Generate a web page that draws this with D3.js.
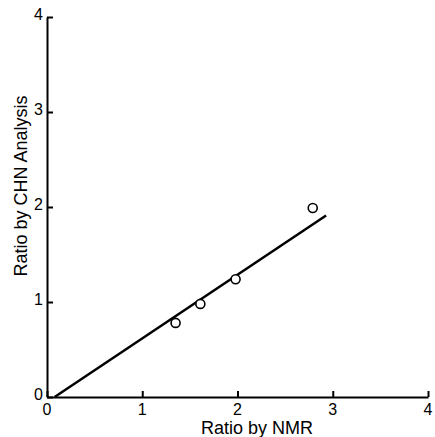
<!DOCTYPE html>
<html>
<head>
<meta charset="utf-8">
<script src="https://cdn.jsdelivr.net/npm/d3@7"></script>
<style>
  body { margin: 0; background: #fff; }
  text { font-family: 'Liberation Sans', Arial, sans-serif; fill: #000; }
</style>
</head>
<body>
<div id="chart"></div>
<script>
// data
var nmrRatio = [1.35, 1.61, 1.98, 2.79]
var chnRatio = [0.78, 0.98, 1.24, 1.99]
var fitX = [0.08, 2.93]
var fitY = [0, 1.91]
var ticks = [0, 1, 2, 3, 4]

var width = 435
var height = 437

var svg = d3.select('#chart')
  .append('svg')
  .attr('width', width)
  .attr('height', height)

var x = d3.scaleLinear().domain([0, 4]).range([47, 428])
var y = d3.scaleLinear().domain([0, 4]).range([397, 17])

// axes with ticks pointing inward
var xAxis = d3.axisTop(x).tickValues(ticks).tickSize(6).tickSizeOuter(0).tickFormat('')
svg.append('g')
  .attr('class', 'x-axis')
  .attr('transform', 'translate(0,' + y(0) + ')')
  .call(xAxis)

var yAxis = d3.axisRight(y).tickValues(ticks).tickSize(6).tickSizeOuter(0).tickFormat('')
svg.append('g')
  .attr('class', 'y-axis')
  .attr('transform', 'translate(' + x(0) + ',0)')
  .call(yAxis)

svg.selectAll('.domain').attr('stroke', '#000').attr('stroke-width', 2)
svg.selectAll('.tick line').attr('stroke', '#000').attr('stroke-width', 2)

// tick labels
svg.selectAll('.xlab')
  .data(ticks)
  .enter().append('text')
  .attr('x', d => x(d))
  .attr('y', y(0) + 18)
  .attr('text-anchor', 'middle')
  .attr('font-size', 16)
  .text(d => d)

svg.selectAll('.ylab')
  .data(ticks)
  .enter().append('text')
  .attr('x', x(0) - 4)
  .attr('y', d => y(d) + 3)
  .attr('text-anchor', 'end')
  .attr('font-size', 16)
  .text(d => d)

// axis titles
svg.append('text')
  .attr('x', 257)
  .attr('y', 434)
  .attr('text-anchor', 'middle')
  .attr('font-size', 18)
  .text('Ratio by NMR')

svg.append('text')
  .attr('transform', 'translate(27,186) rotate(-90)')
  .attr('text-anchor', 'middle')
  .attr('font-size', 18)
  .text('Ratio by CHN Analysis')

// fit line
var line = d3.line().x(d => x(d[0])).y(d => y(d[1]))
svg.append('path')
  .datum(d3.zip(fitX, fitY))
  .attr('d', line)
  .attr('fill', 'none')
  .attr('stroke', '#000')
  .attr('stroke-width', 2.5)

// points
svg.selectAll('circle')
  .data(d3.zip(nmrRatio, chnRatio))
  .enter().append('circle')
  .attr('cx', d => x(d[0]))
  .attr('cy', d => y(d[1]))
  .attr('r', 4.5)
  .attr('fill', '#fff')
  .attr('stroke', '#000')
  .attr('stroke-width', 1.6)
</script>
</body>
</html>
